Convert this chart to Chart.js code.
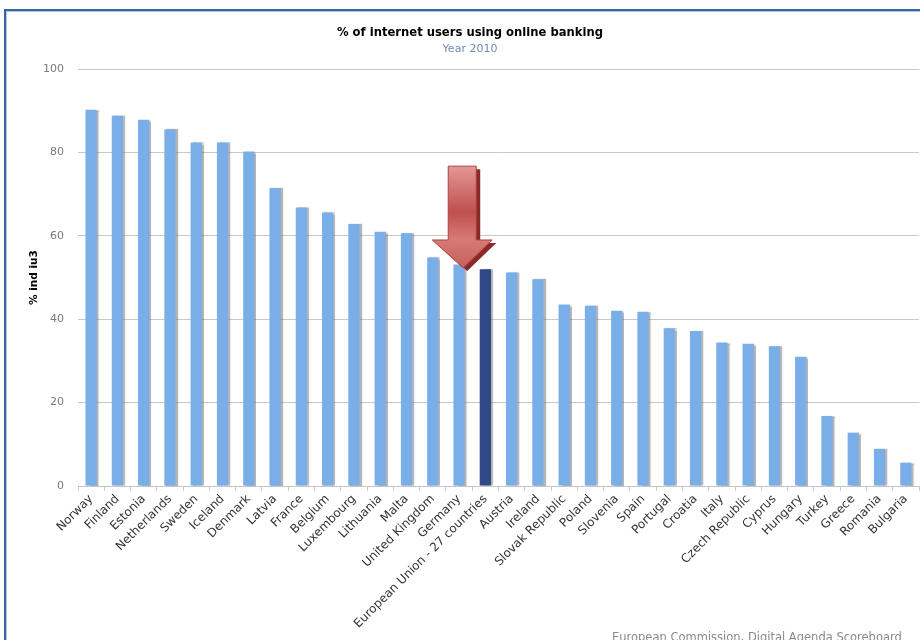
<!DOCTYPE html>
<html>
<head>
<meta charset="utf-8">
<script src="https://cdn.jsdelivr.net/npm/chart.js@4.4.1/dist/chart.umd.min.js"></script>
<style>
  html, body { margin: 0; padding: 0; background: #ffffff; overflow: hidden; }
  #wrap { position: relative; width: 920px; height: 640px; overflow: hidden; }
  .ln { position: absolute; pointer-events: none; }
  #topA { left: 4px; top: 9px; width: 916px; height: 2px; background: #3f64a2; }
  #topB { left: 6px; top: 11px; width: 914px; height: 1px; background: #b3c5e0; }
  #leftA { left: 4px; top: 9px; width: 2px; height: 631px; background: #3f64a2; }
  #leftB { left: 6px; top: 11px; width: 1px; height: 629px; background: #b3c5e0; }
  canvas { position: absolute; left: 0; top: 0; }
</style>
</head>
<body>
<div id="wrap">
  <canvas id="c" width="920" height="640"></canvas>
  <div class="ln" id="topA"></div><div class="ln" id="topB"></div>
  <div class="ln" id="leftA"></div><div class="ln" id="leftB"></div>
</div>
<script>
const categories = ["Norway","Finland","Estonia","Netherlands","Sweden","Iceland","Denmark","Latvia","France","Belgium","Luxembourg","Lithuania","Malta","United Kingdom","Germany","European Union - 27 countries","Austria","Ireland","Slovak Republic","Poland","Slovenia","Spain","Portugal","Croatia","Italy","Czech Republic","Cyprus","Hungary","Turkey","Greece","Romania","Bulgaria"];
const values = [90.2, 88.8, 87.8, 85.5, 82.4, 82.4, 80.2, 71.4, 66.8, 65.6, 62.8, 61.0, 60.6, 54.8, 53.1, 52.0, 51.2, 49.6, 43.5, 43.2, 42.0, 41.8, 37.8, 37.2, 34.4, 34.1, 33.5, 31.0, 16.8, 12.8, 8.9, 5.6];
const highlight = "European Union - 27 countries";
const yTicks = [0, 20, 40, 60, 80, 100];
const titleText = "% of internet users using online banking";
const subtitleText = "Year 2010";
const yTitle = "% ind iu3";
const creditText = "European Commission, Digital Agenda Scoreboard";

const barColor = "#7aaee9";
const hiColor = "#2f4886";

const decor = {
  id: "decor",
  beforeDatasetsDraw(chart) {
    const ctx = chart.ctx;
    ctx.save();
    ctx.shadowColor = "rgba(90,90,90,0.45)";
    ctx.shadowOffsetX = 2;
    ctx.shadowOffsetY = 0;
    ctx.shadowBlur = 1;
  },
  afterDatasetsDraw(chart) {
    const ctx = chart.ctx;
    ctx.restore();
    const xs = chart.scales.x, ys = chart.scales.y;
    const hi = categories.indexOf(highlight);
    const step = xs.getPixelForValue(hi) - xs.getPixelForValue(hi - 1);
    const cx = xs.getPixelForValue(hi) - 0.88 * step;
    const yTop = ys.getPixelForValue(76.7);
    const yHead = ys.getPixelForValue(59);
    const yTip = ys.getPixelForValue(52.3);
    const sw = 14, hw = 30;
    function path(dx, dy) {
      ctx.beginPath();
      ctx.moveTo(cx - sw + dx, yTop + dy);
      ctx.lineTo(cx + sw + dx, yTop + dy);
      ctx.lineTo(cx + sw + dx, yHead + dy);
      ctx.lineTo(cx + hw + dx, yHead + dy);
      ctx.lineTo(cx + 1 + dx, yTip + dy);
      ctx.lineTo(cx - hw + dx, yHead + dy);
      ctx.lineTo(cx - sw + dx, yHead + dy);
      ctx.closePath();
    }
    ctx.save();
    path(4, 3);
    ctx.fillStyle = "#8a2a28";
    ctx.fill();
    path(0, 0);
    const g = ctx.createLinearGradient(0, yTop, 0, yTip);
    g.addColorStop(0, "#e29896");
    g.addColorStop(0.45, "#c0504d");
    g.addColorStop(0.72, "#d77a77");
    g.addColorStop(1, "#c4605d");
    ctx.fillStyle = g;
    ctx.fill();
    ctx.strokeStyle = "#b2403d";
    ctx.lineWidth = 1;
    ctx.stroke();
    ctx.restore();
  },
  afterDraw(chart) {
    const ctx = chart.ctx;
    ctx.save();
    ctx.textAlign = "center";
    ctx.textBaseline = "middle";
    ctx.fillStyle = "#000000";
    ctx.font = "bold 11.6px 'DejaVu Sans'";
    ctx.fillText(titleText, 470, 33);
    ctx.fillStyle = "#6d8db0";
    ctx.font = "11px 'DejaVu Sans'";
    ctx.fillText(subtitleText, 470, 49);
    ctx.textAlign = "left";
    ctx.textBaseline = "top";
    ctx.fillStyle = "#8a8a8a";
    ctx.font = "11.5px 'DejaVu Sans'";
    ctx.fillText(creditText, 612, 632);
    ctx.restore();
  }
};

new Chart(document.getElementById("c"), {
  type: "bar",
  data: {
    labels: categories,
    datasets: [{
      data: values,
      backgroundColor: categories.map(c => c === highlight ? hiColor : barColor),
      borderWidth: 0,
      barPercentage: 0.43,
      categoryPercentage: 1.0
    }]
  },
  options: {
    responsive: false,
    animation: false,
    devicePixelRatio: 1,
    layout: { padding: { top: 69, right: 1, bottom: 0, left: 0 } },
    plugins: { legend: { display: false }, tooltip: { enabled: false }, title: { display: false } },
    scales: {
      x: {
        offset: true,
        grid: { drawOnChartArea: false, drawTicks: true, tickLength: 5, color: "#cccccc" },
        border: { display: true, color: "#c4c4c4" },
        ticks: { autoSkip: false, minRotation: 45, maxRotation: 45, color: "#333333",
                 font: { family: "DejaVu Sans", size: 12 }, padding: 1 },
        afterFit(scale) { scale.height = 154; }
      },
      y: {
        min: 0, max: 100,
        afterBuildTicks(scale) { scale.ticks = yTicks.map(v => ({ value: v })); },
        grid: { color: "#c8c8c8", drawTicks: false },
        border: { display: false },
        ticks: { color: "#7a7a7a", font: { family: "DejaVu Sans", size: 11 }, padding: 14 },
        title: { display: true, text: yTitle, color: "#000000",
                 font: { family: "DejaVu Sans", size: 10.5, weight: "bold" },
                 padding: { top: 28, bottom: 0 } },
        afterFit(scale) { scale.width = 78; }
      }
    }
  },
  plugins: [decor]
});
</script>
</body>
</html>
